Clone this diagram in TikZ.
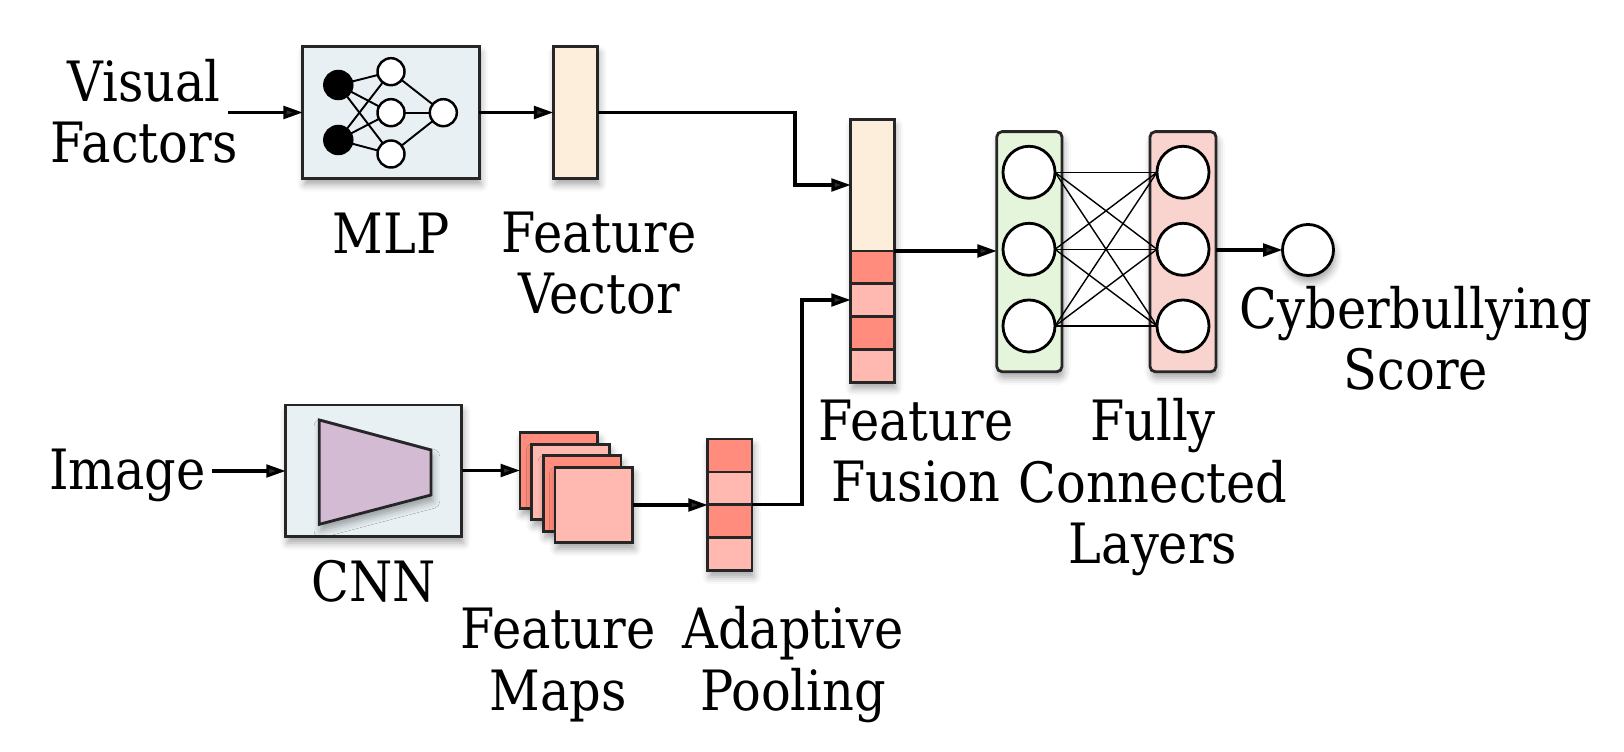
\documentclass[tikz,border=0pt]{standalone}
\usepackage{fontspec}
\setmainfont{DejaVu Serif}[FakeStretch=0.89]
\usetikzlibrary{arrows.meta,shadows.blur,calc}
\definecolor{boxblue}{HTML}{E9F0F4}
\definecolor{peach}{HTML}{FDEEDB}
\definecolor{mauve}{HTML}{D3BBD3}
\definecolor{salmon}{HTML}{FF8C7C}
\definecolor{lsalmon}{HTML}{FFB9B0}
\definecolor{lgreen}{HTML}{E4F5DB}
\definecolor{lred}{HTML}{F9D3CD}
\begin{document}
\begin{tikzpicture}[x=0.01cm,y=-0.01cm,
  shd/.style={blur shadow={shadow xshift=0.5pt,shadow yshift=-1.8pt,shadow blur radius=2pt,shadow opacity=35}},
  block/.style={draw=black!85,line width=0.8pt,inner sep=0pt,outer sep=0pt},
  cell/.style={draw=black!85,line width=0.8pt,inner sep=0pt,outer sep=0pt},
  lbl/.style={font=\fontsize{15.8}{17.4}\selectfont,align=center,inner sep=0pt,anchor=base},
  conn/.style={line width=0.9pt,-{Triangle[length=5.5pt,width=3.6pt]}},
  nnline/.style={line width=0.55pt},
  fcline/.style={line width=0.4pt},
  neuron/.style={circle,draw=black,line width=0.7pt,fill=white,inner sep=0pt,outer sep=0pt},
  bigneuron/.style={circle,draw=black,line width=0.8pt,fill=white,inner sep=0pt,outer sep=0pt,minimum size=0.52cm}
]
\useasboundingbox (0,0) rectangle (1624,752);

% ---- MLP branch
\node[block,shd,fill=boxblue,minimum width=1.763cm,minimum height=1.316cm] (mlp) at (391,112.5) {};
\node[neuron,fill=black,minimum size=0.28cm] (b1) at (338.3,85) {};
\node[neuron,fill=black,minimum size=0.28cm] (b2) at (338.3,140) {};
\node[neuron,minimum size=0.27cm] (h1) at (391,71.7) {};
\node[neuron,minimum size=0.27cm] (h2) at (391,112.7) {};
\node[neuron,minimum size=0.27cm] (h3) at (391,154) {};
\node[neuron,minimum size=0.27cm] (o1) at (443.3,112.7) {};
\foreach \b in {b1,b2}{\foreach \h in {h1,h2,h3}{\draw[nnline] (\b) -- (\h);}}
\foreach \h in {h1,h2,h3}{\draw[nnline] (\h) -- (o1);}

\node[block,shd,fill=peach,minimum width=0.444cm,minimum height=1.316cm] (fv) at (575.5,112.5) {};

% ---- CNN branch
\node[block,shd,fill=boxblue,minimum width=1.76cm,minimum height=1.317cm] (cnn) at (373.7,470.8) {};
\draw[draw=black!85,fill=mauve,line width=0.8pt,shd] (319.3,420) -- (431,450) -- (431,495) -- (319.3,524.3) -- cycle;

\node[block,shd,fill=salmon,minimum width=0.777cm,minimum height=0.756cm] (fm0) at (558.85,470.5) {};
\node[block,shd,fill=lsalmon,minimum width=0.777cm,minimum height=0.756cm] (fm1) at (570.5,482) {};
\node[block,shd,fill=salmon,minimum width=0.777cm,minimum height=0.756cm] (fm2) at (582.2,493.5) {};
\node[block,shd,fill=lsalmon,minimum width=0.777cm,minimum height=0.756cm] (fm3) at (593.85,505) {};

\node[block,shd,fill=lsalmon,minimum width=0.443cm,minimum height=1.317cm] (ap) at (729.85,504.85) {};
\node[cell,fill=salmon,minimum width=0.443cm,minimum height=0.329cm] (ap1) at (729.85,455.46) {};
\node[cell,fill=lsalmon,minimum width=0.443cm,minimum height=0.329cm] (ap2) at (729.85,488.39) {};
\node[cell,fill=salmon,minimum width=0.443cm,minimum height=0.329cm] (ap3) at (729.85,521.32) {};
\node[cell,fill=lsalmon,minimum width=0.443cm,minimum height=0.329cm] (ap4) at (729.85,554.25) {};

% ---- fusion
\node[block,shd,fill=peach,minimum width=0.436cm,minimum height=2.63cm] (ff) at (872.5,250.8) {};
\node[cell,fill=salmon,minimum width=0.436cm,minimum height=0.328cm] (ff1) at (872.5,267.4) {};
\node[cell,fill=lsalmon,minimum width=0.436cm,minimum height=0.328cm] (ff2) at (872.5,300.2) {};
\node[cell,fill=salmon,minimum width=0.436cm,minimum height=0.328cm] (ff3) at (872.5,333) {};
\node[cell,fill=lsalmon,minimum width=0.436cm,minimum height=0.328cm] (ff4) at (872.5,365.9) {};

% ---- fully connected
\node[block,shd,fill=lgreen,rounded corners=1.5pt,minimum width=0.652cm,minimum height=2.40cm] (gbox) at (1029.4,251.7) {};
\node[block,shd,fill=lred,rounded corners=1.5pt,minimum width=0.66cm,minimum height=2.40cm] (rbox) at (1183,251.7) {};
\node[bigneuron] (g1) at (1029,172.3) {};
\node[bigneuron] (g2) at (1029,249.3) {};
\node[bigneuron] (g3) at (1029,326) {};
\node[bigneuron] (r1) at (1183,172.3) {};
\node[bigneuron] (r2) at (1183,249.3) {};
\node[bigneuron] (r3) at (1183,326) {};
\foreach \g in {g1,g2,g3}{\foreach \r in {r1,r2,r3}{\draw[fcline] (\g.east) -- (\r.west);}}
\node[bigneuron,shd,minimum size=0.51cm] (out) at (1308,250) {};

% ---- connectors
\coordinate (vfout) at (228,112.5);
\coordinate (imgout) at (212,471);
\coordinate (j1) at (795,185);
\coordinate (j2) at (802,300);
\draw[conn] (vfout) -- (mlp.west |- vfout);
\draw[conn] (imgout) -- (cnn.west |- imgout);
\draw[conn] (mlp.east) -- (fv.west);
\draw[conn] (fv.east) -| (j1) -- (ff.west |- j1);
\draw[conn] (cnn.east |- fm0.west) -- (fm0.west);
\draw[conn] (fm3.east) -- (ap.west |- fm3.east);
\draw[conn] (ap.east) -| (j2) -- (ff.west |- j2);
\draw[conn] (ff1.north east) -- (gbox.west |- ff1.north east);
\draw[conn] (rbox.east |- out) -- (out.west);

% ---- labels (anchor = baseline of the last line)
\node[lbl] (tvf) at (144,163) {Visual\\Factors};
\node[lbl] (timg) at (127.5,490) {Image};
\node[lbl] (tmlp) at (391,253.3) {MLP};
\node[lbl] (tfv) at (599,313.3) {Feature\\Vector};
\node[lbl] (tcnn) at (373.7,601.7) {CNN};
\node[lbl] (tfm) at (558,710) {Feature\\Maps};
\node[lbl] (tap) at (793,710) {Adaptive\\Pooling};
\node[lbl] (tff) at (916,501.7) {Feature\\Fusion};
\node[lbl] (tfc) at (1153,563.3) {Fully\\Connected\\Layers};
\node[lbl] (tcs) at (1416,390) {Cyberbullying\\Score};
\end{tikzpicture}
\end{document}
